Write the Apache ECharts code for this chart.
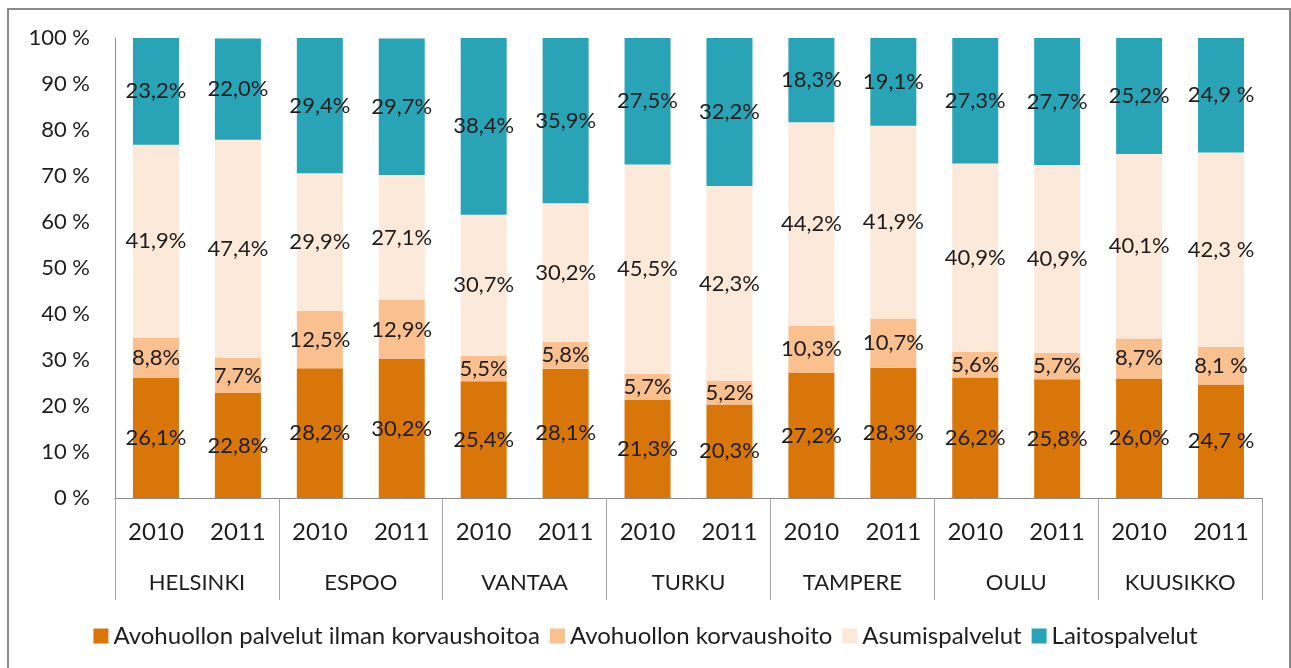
<!DOCTYPE html>
<html>
<head>
<meta charset="utf-8">
<script src="https://cdn.jsdelivr.net/npm/echarts@6/dist/echarts.min.js"></script>
<style>
html,body{margin:0;padding:0;background:#fff;}
#chart{width:1291px;height:668px;}
</style>
</head>
<body>
<div id="chart"></div>
<script>
const years = ['2010','2011','2010','2011','2010','2011','2010','2011','2010','2011','2010','2011','2010','2011'];
const cities = ['HELSINKI','ESPOO','VANTAA','TURKU','TAMPERE','OULU','KUUSIKKO'];
const seriesNames = ['Avohuollon palvelut ilman korvaushoitoa','Avohuollon korvaushoito','Asumispalvelut','Laitospalvelut'];
const avohuoltoIlman = [26.1,22.8,28.2,30.2,25.4,28.1,21.3,20.3,27.2,28.3,26.2,25.8,26.0,24.7];
const korvaushoito   = [8.8,7.7,12.5,12.9,5.5,5.8,5.7,5.2,10.3,10.7,5.6,5.7,8.7,8.1];
const asumispalvelut = [41.9,47.4,29.9,27.1,30.7,30.2,45.5,42.3,44.2,41.9,40.9,40.9,40.1,42.3];
const laitospalvelut = [23.2,22.0,29.4,29.7,38.4,35.9,27.5,32.2,18.3,19.1,27.3,27.7,25.2,24.9];
const yTicks = [0,10,20,30,40,50,60,70,80,90,100];
const spacedLabelIndex = [13];

const colors = ['#D9760A','#FAC08F','#FDE9DA','#29A4B6'];
const FONT = 'Lato, "Open Sans", sans-serif';
const TXT = '#1e1e1e';

const chart = echarts.init(document.getElementById('chart'));
const allData = [avohuoltoIlman, korvaushoito, asumispalvelut, laitospalvelut];

const series = allData.map((d, i) => ({
  name: seriesNames[i],
  type: 'bar',
  stack: 'total',
  xAxisIndex: 0,
  barWidth: 46,
  data: d,
  itemStyle: {color: colors[i]},
  label: {
    show: true,
    position: 'inside',
    color: TXT,
    fontFamily: FONT,
    fontSize: 22,
    formatter: p => p.value.toFixed(1).replace('.', ',') + (spacedLabelIndex.includes(p.dataIndex) ? ' %' : '%')
  },
  emphasis: {disabled: true}
}));

chart.setOption({
  animation: false,
  textStyle: {fontFamily: FONT},
  graphic: [{
    type: 'rect',
    shape: {x: 8, y: 9, width: 1282, height: 700},
    style: {fill: 'none', stroke: '#8a8a8a', lineWidth: 2},
    silent: true,
    z: -10
  }],
  legend: {
    bottom: 15,
    left: 'center',
    itemWidth: 15,
    itemHeight: 15,
    itemGap: 10,
    icon: 'rect',
    textStyle: {fontSize: 24, color: TXT, fontFamily: FONT},
    data: seriesNames
  },
  grid: {left: 115, right: 29, top: 38, bottom: 170, containLabel: false},
  xAxis: [{
    type: 'category',
    data: years,
    axisLine: {show: true, lineStyle: {color: '#8c8c8c', width: 1}},
    axisTick: {show: false},
    axisLabel: {fontSize: 24, color: TXT, fontFamily: FONT, margin: 22}
  }, {
    type: 'category',
    data: cities,
    position: 'bottom',
    axisLine: {show: false},
    axisTick: {show: true, length: 102, lineStyle: {color: '#a6a6a6', width: 1}},
    axisLabel: {fontSize: 22, color: TXT, fontFamily: FONT, margin: 74}
  }],
  yAxis: {
    type: 'value',
    min: 0,
    max: 100,
    interval: 10,
    axisLine: {show: true, lineStyle: {color: '#8c8c8c'}},
    axisTick: {show: false},
    splitLine: {show: false},
    axisLabel: {fontSize: 22, color: TXT, fontFamily: FONT, margin: 25, formatter: v => yTicks.includes(v) ? v + ' %' : ''}
  },
  series: series
});
</script>
</body>
</html>
